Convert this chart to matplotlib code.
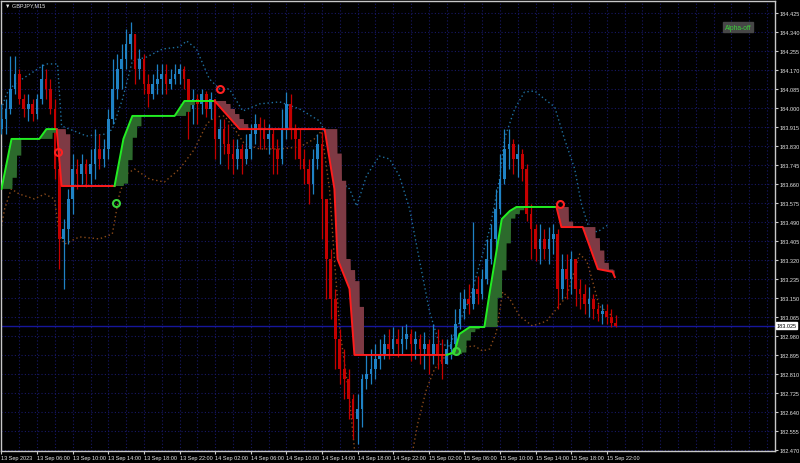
import numpy as np
import matplotlib.pyplot as plt
from matplotlib import font_manager

installed = {f.name for f in font_manager.fontManager.ttflist}
label_font = 'Liberation Sans Narrow' if 'Liberation Sans Narrow' in installed else 'Liberation Sans'
plt.rcParams['font.family'] = [label_font, 'DejaVu Sans']
label_size = 4.8 if label_font == 'Liberation Sans Narrow' else 4.0

# 30-minute bars starting 13 Sep 2023 02:00 (GBPJPY)
first_open = 183.906
closes = [183.951, 183.996, 184.086, 184.153, 184.041, 183.996, 184.019, 183.974, 184.041, 184.131,
          184.086, 183.996, 183.727, 183.414, 183.458, 183.593, 183.727, 183.705, 183.750, 183.705,
          183.750, 183.817, 183.772, 183.817, 183.951, 184.086, 184.175, 184.220, 184.287, 184.332,
          184.175, 184.220, 184.108, 184.063, 184.108, 184.131, 184.153, 184.108, 184.131, 184.153,
          184.175, 184.131, 183.996, 184.041, 184.019, 184.063, 183.996, 184.041, 183.862, 183.906,
          183.839, 183.794, 183.772, 183.817, 183.772, 183.817, 183.884, 183.929, 183.906, 183.862,
          183.884, 183.817, 183.772, 183.906, 184.019, 183.906, 183.862, 183.772, 183.727, 183.660,
          183.772, 183.839, 183.593, 183.324, 183.145, 182.965, 182.831, 182.786, 182.697, 182.607,
          182.652, 182.786, 182.809, 182.831, 182.876, 182.898, 182.943, 182.921, 182.965, 182.943,
          182.965, 182.988, 182.943, 182.965, 182.921, 182.943, 182.898, 182.943, 182.898, 182.853,
          182.921, 182.943, 183.033, 183.100, 183.145, 183.122, 183.190, 183.167, 183.234, 183.324,
          183.414, 183.548, 183.682, 183.817, 183.839, 183.772, 183.794, 183.727, 183.526, 183.458,
          183.369, 183.414, 183.369, 183.414, 183.436, 183.190, 183.279, 183.234, 183.324, 183.190,
          183.167, 183.122, 183.145, 183.100, 183.077, 183.091, 183.064, 183.037, 183.025]
highs = [184.019, 184.041, 184.234, 184.234, 184.175, 184.063, 184.063, 184.041, 184.063, 184.198,
         184.175, 184.131, 184.041, 183.750, 183.503, 183.638, 183.794, 183.772, 183.794, 183.772,
         183.817, 183.906, 183.884, 183.862, 183.996, 184.220, 184.243, 184.287, 184.355, 184.386,
         184.310, 184.265, 184.243, 184.153, 184.153, 184.198, 184.198, 184.198, 184.175, 184.198,
         184.198, 184.189, 184.108, 184.086, 184.063, 184.086, 184.077, 184.072, 184.041, 183.951,
         183.951, 183.929, 183.862, 183.862, 183.839, 183.884, 183.929, 183.974, 183.960, 183.951,
         183.929, 183.906, 183.862, 183.996, 184.072, 184.063, 183.929, 183.906, 183.817, 183.772,
         183.817, 183.884, 183.893, 183.593, 183.369, 183.190, 183.010, 182.921, 182.831, 182.719,
         182.719, 182.809, 182.898, 182.921, 182.943, 182.965, 182.988, 183.010, 183.019, 183.010,
         183.024, 183.033, 183.010, 183.001, 182.988, 182.997, 182.965, 183.033, 183.010, 182.965,
         182.965, 182.988, 183.100, 183.176, 183.190, 183.212, 183.490, 183.248, 183.279, 183.414,
         183.481, 183.638, 183.794, 183.906, 183.906, 183.862, 183.839, 183.817, 183.750, 183.570,
         183.481, 183.481, 183.458, 183.467, 183.481, 183.458, 183.346, 183.346, 183.360, 183.302,
         183.234, 183.212, 183.198, 183.167, 183.122, 183.122, 183.122, 183.100, 183.073]
lows = [183.884, 183.884, 183.974, 184.063, 184.019, 183.960, 183.942, 183.942, 183.951, 184.019,
        184.041, 183.974, 183.682, 183.279, 183.190, 183.391, 183.526, 183.638, 183.660, 183.647,
        183.660, 183.682, 183.727, 183.736, 183.772, 183.929, 184.041, 184.086, 184.175, 184.220,
        184.108, 184.131, 184.063, 184.005, 184.041, 184.063, 184.063, 184.063, 184.086, 184.108,
        184.108, 184.086, 183.862, 183.929, 183.929, 183.974, 183.960, 183.951, 183.772, 183.750,
        183.794, 183.727, 183.705, 183.727, 183.705, 183.750, 183.772, 183.839, 183.817, 183.817,
        183.794, 183.705, 183.705, 183.750, 183.862, 183.862, 183.772, 183.727, 183.660, 183.570,
        183.615, 183.727, 183.414, 183.145, 183.055, 182.831, 182.764, 182.697, 182.607, 182.517,
        182.495, 182.571, 182.741, 182.764, 182.786, 182.831, 182.876, 182.876, 182.898, 182.885,
        182.898, 182.921, 182.867, 182.876, 182.853, 182.831, 182.809, 182.853, 182.831, 182.786,
        182.853, 182.876, 182.921, 183.010, 183.055, 183.077, 183.100, 183.122, 183.145, 183.212,
        183.302, 183.369, 183.526, 183.660, 183.727, 183.705, 183.691, 183.673, 183.494, 183.324,
        183.315, 183.302, 183.324, 183.302, 183.346, 183.100, 183.145, 183.145, 183.167, 183.113,
        183.100, 183.077, 183.064, 183.055, 183.046, 183.033, 183.033, 183.019, 183.019]

# trend line (bar index, price) and bars where it flips; starts in up trend
st_x = [0.0, 2.25, 8.5, 10.1, 12.4, 13.5, 25.4, 27.4, 29.4, 38.9, 41.1, 47.9, 53.5, 72.6, 74.8,
        75.5, 78.2, 79.3, 100.0, 101.8, 102.9, 105.2, 108.5, 109.7, 112.4, 114.2, 115.7, 124.7,
        125.8, 130.6, 134.0, 137.3, 137.8]
st_y = [183.638, 183.862, 183.862, 183.906, 183.906, 183.651, 183.651, 183.862, 183.965, 183.965,
        184.032, 184.032, 183.906, 183.906, 183.638, 183.324, 183.190, 182.894, 182.894, 182.907,
        182.988, 183.019, 183.019, 183.176, 183.503, 183.539, 183.557, 183.557, 183.467, 183.467,
        183.279, 183.266, 183.243]
st_flips = [12.4, 25.4, 47.9, 100.0, 124.7]

signal_x = [12.8, 25.8, 49.0, 102.2, 125.4]
signal_y = [183.805, 183.575, 184.086, 182.912, 183.570]
signal_up = [False, True, False, True, False]

# dotted envelope lines
upper_x = [0.0, 1.1, 2.9, 9.2, 10.1, 12.6, 13.5, 16.9, 19.1, 23.6, 24.9, 27.2, 29.4, 32.6, 36.2,
           40.0, 41.6, 43.8, 46.7, 49.0, 51.2, 54.2, 58.0, 62.5, 67.0, 71.5, 73.7, 75.3, 76.0,
           77.5, 78.2, 79.8, 82.0, 84.9, 87.2, 89.4, 91.7, 93.3, 96.2, 98.4, 100.7, 102.9, 105.2,
           109.7, 111.9, 113.0, 115.3, 117.5, 119.8, 122.0, 124.3, 126.5, 128.8, 130.3, 132.1,
           133.9, 136.6]
upper_y = [183.996, 184.063, 184.108, 184.189, 184.198, 184.198, 183.920, 183.893, 183.875, 183.884,
           183.906, 184.041, 184.211, 184.229, 184.265, 184.274, 184.301, 184.265, 184.131, 184.086,
           184.086, 183.987, 184.019, 184.028, 183.996, 183.942, 183.848, 183.696, 183.606, 183.651,
           183.638, 183.561, 183.696, 183.785, 183.772, 183.696, 183.548, 183.382, 183.086, 182.943,
           182.934, 183.042, 183.145, 183.458, 183.682, 183.862, 183.996, 184.072, 184.077, 184.041,
           184.005, 183.862, 183.727, 183.570, 183.458, 183.445, 183.481]
lower_x = [0.0, 0.7, 2.2, 4.0, 7.4, 9.7, 11.9, 13.0, 14.2, 17.5, 22.0, 24.9, 26.5, 28.1, 29.9,
           33.3, 36.6, 40.0, 43.4, 46.1, 47.9, 50.1, 52.4, 54.6, 58.0, 62.5, 67.0, 70.3, 71.9,
           73.7, 74.8, 76.0, 78.2, 79.3, 80.9, 84.9, 90.6, 92.4, 93.5, 95.5, 97.3, 99.1, 101.3,
           104.0, 106.3, 108.1, 109.7, 111.2, 112.6, 114.2, 116.4, 119.3, 122.5, 124.7, 127.0,
           129.9, 131.5, 132.8, 134.3, 137.3]
lower_y = [183.472, 183.548, 183.638, 183.615, 183.593, 183.615, 183.593, 183.436, 183.391, 183.423,
           183.414, 183.436, 183.615, 183.705, 183.727, 183.682, 183.669, 183.727, 183.817, 183.929,
           183.960, 183.965, 183.906, 183.839, 183.817, 183.817, 183.826, 183.862, 183.897, 183.638,
           183.324, 183.010, 182.697, 182.473, 182.360, 182.248, 182.338, 182.464, 182.585, 182.741,
           182.831, 182.876, 182.907, 182.930, 182.934, 182.912, 182.921, 182.997, 183.176, 183.145,
           183.068, 183.024, 183.046, 183.100, 183.158, 183.346, 183.315, 183.226, 183.113, 183.068]

time_labels = ["13 Sep 2023", "13 Sep 06:00", "13 Sep 10:00", "13 Sep 14:00", "13 Sep 18:00",
               "13 Sep 22:00", "14 Sep 02:00", "14 Sep 06:00", "14 Sep 10:00", "14 Sep 14:00",
               "14 Sep 18:00", "14 Sep 22:00", "15 Sep 02:00", "15 Sep 06:00", "15 Sep 10:00",
               "15 Sep 14:00", "15 Sep 18:00", "15 Sep 22:00"]
price_ticks = [182.470 + 0.085 * k for k in range(24)]
last_price = 183.025

fig = plt.figure(figsize=(8, 4.64), dpi=100, facecolor='black')
ax = fig.add_axes([1 / 800, 1 - 452 / 464, 774 / 800, 450 / 464])
ax.set_facecolor('black')

n = len(closes)
idx = np.arange(n)
c = np.array(closes)
o = np.concatenate([[first_open], c[:-1]])
hi = np.maximum(np.array(highs), np.maximum(o, c))
lo = np.minimum(np.array(lows), np.minimum(o, c))
up = c >= o
col = np.where(up, '#1f82c4', '#c40000')

# grid
for k in range(0, 176, 4):
    ax.axvline(k, color='#181866', lw=0.8, ls=(0, (1, 2)), zorder=0)
for p in price_ticks:
    ax.axhline(p, color='#181866', lw=0.8, ls=(0, (1, 2)), zorder=0)

# envelopes
ax.plot(upper_x, upper_y, color='#1f6f9f', lw=1.0, ls=(0, (1, 2)), zorder=2)
ax.plot(lower_x, lower_y, color='#8a4a1a', lw=1.0, ls=(0, (1, 2)), zorder=2)

# candles
ax.vlines(idx, lo, hi, colors=col, lw=0.9, zorder=3)
ax.bar(idx, np.maximum(np.abs(c - o), 0.004), bottom=np.minimum(o, c), width=0.6,
       color=col, zorder=3)

# trend fill between the line and its lagged copy
xs = np.arange(0, st_x[-1], 0.05)
line = np.interp(xs, st_x, st_y)
edge = np.interp(np.floor(xs + 0.5) - 2.5, st_x, st_y)
seg = np.searchsorted(st_flips, xs)
is_up = seg % 2 == 0
ax.fill_between(xs, line, edge, where=is_up & (edge < line), color='#2c6a2c', lw=0, zorder=4)
ax.fill_between(xs, line, edge, where=~is_up & (edge > line), color='#7e3a44', lw=0, zorder=4)

# trend line, coloured by segment
bounds = [st_x[0]] + st_flips + [st_x[-1]]
for k in range(len(bounds) - 1):
    a, b = bounds[k], bounds[k + 1]
    sx = [a] + [x for x in st_x if a < x < b] + [b]
    sy = np.interp(sx, st_x, st_y)
    ax.plot(sx, sy, color='#22ee22' if k % 2 == 0 else '#ff1c1c', lw=1.4, zorder=5)

for x, y, u in zip(signal_x, signal_y, signal_up):
    ax.plot(x, y, marker='o', ms=5, mfc='none', mew=1.5,
            mec='#3ad43a' if u else '#ff2020', zorder=6)

# current price
ax.axhline(last_price, color='#16169a', lw=1.0, zorder=1)
ax.annotate(f'{last_price:.3f}', xy=(1.002, last_price), xycoords=('axes fraction', 'data'),
            ha='left', va='center', fontsize=label_size, color='black',
            bbox=dict(boxstyle='square,pad=0.15', fc='white', ec='white'))

ax.set_xlim(-0.11, 173.8)
ax.set_ylim(182.4636, 184.480)

ax.yaxis.tick_right()
ax.set_yticks(price_ticks)
ax.set_yticklabels([f'{p:.3f}' for p in price_ticks])
ax.set_xticks(range(0, 8 * len(time_labels), 8))
ax.set_xticklabels(time_labels, ha='left')
ax.tick_params(axis='both', colors='#c8c8c8', labelcolor='#e6e6e6', labelsize=label_size,
               length=2.0, width=0.8, pad=1.0)
for s in ax.spines.values():
    s.set_color('#c8c8c8')
    s.set_linewidth(1.0)

fig.text(5 / 800, 1 - 6 / 464, '\u25bc GBPJPY,M15', color='#e6e6e6', fontsize=label_size,
         ha='left', va='center')
fig.text(738 / 800, 1 - 28 / 464, 'Alpha-off', color='#3ad43a', fontsize=label_size + 0.8,
         ha='center', va='center', bbox=dict(boxstyle='square,pad=0.25', fc='#474747', ec='#474747'))

fig.savefig('out.png', dpi=100, facecolor='black')
